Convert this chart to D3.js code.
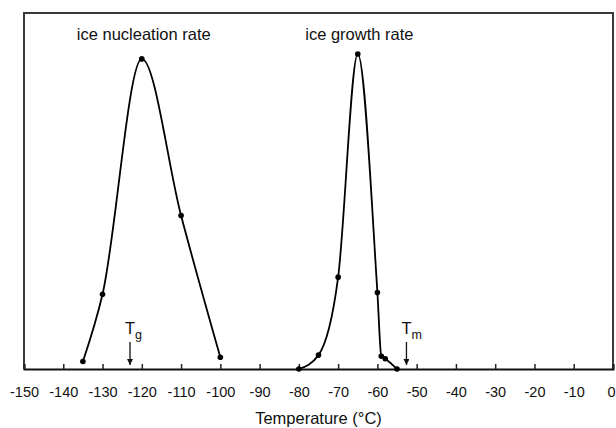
<!DOCTYPE html>
<html>
<head>
<meta charset="utf-8">
<script src="https://cdn.jsdelivr.net/npm/d3@7"></script>
<style>
  body { margin: 0; background: #fff; }
  svg { display: block; font-family: "Liberation Sans", Arial, sans-serif; }
</style>
</head>
<body>
<svg id="chart" width="616" height="428"></svg>
<script>
// Temperature ticks along the bottom axis (°C)
const tempTicks = [-150, -140, -130, -120, -110, -100, -90, -80, -70, -60, -50, -40, -30, -20, -10, 0];

// Ice nucleation rate (relative units)
const nucleationTemp = [-135, -130, -120, -110, -100];
const nucleationRate = [2.1, 21.0, 87.1, 43.1, 3.3];

// Ice growth rate (relative units)
const growthTemp = [-80, -75, -70, -65, -60, -59, -58, -55];
const growthRate = [0, 3.9, 25.8, 88.5, 21.5, 3.6, 2.9, 0];

// Characteristic temperatures: glass transition and melting
const markerNames = ["g", "m"];
const markerTemps = [-123, -52.6];

const curveLabels = ["ice nucleation rate", "ice growth rate"];
const curveLabelTemps = [-119.5, -64.6];

const svg = d3.select("#chart");
const plotLeft = 24, plotRight = 613, plotTop = 13, plotBottom = 369;

const x = d3.scaleLinear().domain([-150, 0]).range([plotLeft, plotRight]);
const y = d3.scaleLinear().domain([0, 100]).range([plotBottom, plotTop]);

// frame
svg.append("path")
  .attr("d", `M${plotLeft},${plotBottom}V${plotTop}H${plotRight}V${plotBottom}`)
  .attr("fill", "none")
  .attr("stroke", "#3a3a3a")
  .attr("stroke-width", 2);

// bottom axis with inward ticks
const axis = svg.append("g")
  .attr("transform", `translate(0,${plotBottom})`)
  .call(d3.axisBottom(x)
    .tickValues(tempTicks)
    .tickSize(-5)
    .tickPadding(18)
    .tickFormat(d => String(d)));
axis.select(".domain").attr("stroke", "#111").attr("stroke-width", 2);
axis.selectAll(".tick line").attr("stroke", "#222").attr("stroke-width", 1.5);
axis.selectAll(".tick text")
  .attr("fill", "#111")
  .style("font-size", "14.5px")
  .style("font-family", "'Liberation Sans', Arial, sans-serif");
// keep the last label inside the page edge
axis.selectAll(".tick text").filter(d => d === 0).attr("dx", -2);

svg.append("text")
  .attr("x", x(-75))
  .attr("y", 424)
  .attr("text-anchor", "middle")
  .attr("fill", "#111")
  .style("font-size", "16.5px")
  .text("Temperature (°C)");

const line = d3.line()
  .x(d => x(d[0]))
  .y(d => y(d[1]))
  .curve(d3.curveMonotoneX);

const series = [
  d3.zip(nucleationTemp, nucleationRate),
  d3.zip(growthTemp, growthRate)
];

series.forEach(pts => {
  svg.append("path")
    .datum(pts)
    .attr("d", line)
    .attr("fill", "none")
    .attr("stroke", "#000")
    .attr("stroke-width", 1.8);
  svg.append("g")
    .selectAll("circle")
    .data(pts)
    .join("circle")
    .attr("cx", d => x(d[0]))
    .attr("cy", d => y(d[1]))
    .attr("r", 2.8)
    .attr("fill", "#000");
});

// curve labels
curveLabels.forEach((t, i) => {
  svg.append("text")
    .attr("x", x(curveLabelTemps[i]))
    .attr("y", 40)
    .attr("text-anchor", "middle")
    .attr("fill", "#111")
    .style("font-size", "16.5px")
    .text(t);
});

// Tg / Tm arrows
const defs = svg.append("defs");
defs.append("marker")
  .attr("id", "arrowhead")
  .attr("viewBox", "0 0 10 10")
  .attr("refX", 10).attr("refY", 5)
  .attr("markerWidth", 6).attr("markerHeight", 6)
  .attr("markerUnits", "userSpaceOnUse")
  .attr("orient", "auto")
  .append("path")
  .attr("d", "M0,0L10,5L0,10Z")
  .attr("fill", "#111");

markerTemps.forEach((t, i) => {
  const cx = x(t);
  svg.append("line")
    .attr("x1", cx).attr("x2", cx)
    .attr("y1", 342).attr("y2", 365)
    .attr("stroke", "#111")
    .attr("stroke-width", 1.3)
    .attr("marker-end", "url(#arrowhead)");
  const lab = svg.append("text")
    .attr("x", cx - 5)
    .attr("y", 334)
    .attr("fill", "#111")
    .style("font-size", "16.5px");
  lab.append("tspan").text("T");
  lab.append("tspan")
    .attr("dy", 5)
    .style("font-size", "12.5px")
    .text(markerNames[i]);
});
</script>
</body>
</html>
